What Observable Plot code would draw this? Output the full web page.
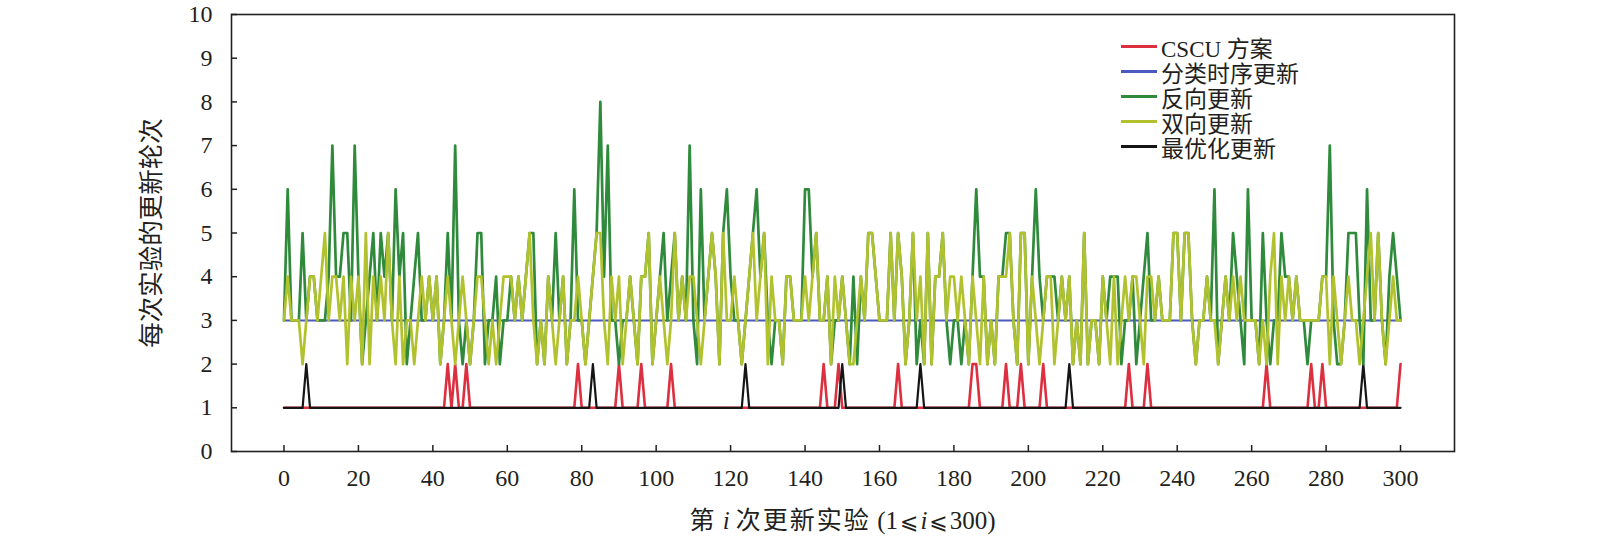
<!DOCTYPE html>
<html><head><meta charset="utf-8">
<script src="https://cdn.jsdelivr.net/npm/d3@7"></script>
<script src="https://cdn.jsdelivr.net/npm/@observablehq/plot@0.6"></script>
<style>
body{margin:0;background:#fff;}
#wrap{position:relative;width:1600px;height:539px;overflow:hidden;}
.leg{position:absolute;left:1121px;top:34px;font-family:"Liberation Serif","Noto Sans CJK SC",serif;font-size:23px;color:#231f20;}
.leg .row{display:flex;align-items:center;height:25.1px;white-space:nowrap;}
.leg .sw{display:inline-block;width:36px;height:3px;margin-right:4px;}
#xt{position:absolute;left:231px;width:1223px;top:500px;text-align:center;font-family:"Liberation Serif","Noto Sans CJK SC",serif;font-size:25px;color:#231f20;white-space:nowrap;}
#xt .cj{letter-spacing:2px;}
#xt .le{font-family:"DejaVu Sans","Noto Sans CJK SC",sans-serif;font-size:22px;padding:0 2px;}
</style></head>
<body>
<div id="wrap"></div>
<script>
// ---- data ----
const xTicks = [0,20,40,60,80,100,120,140,160,180,200,220,240,260,280,300];
const yTicks = [0,1,2,3,4,5,6,7,8,9,10];
const seriesNames = ["CSCU 方案","分类时序更新","反向更新","双向更新","最优化更新"];
const seriesColors = ["#dc2f3f","#4a5ac0","#2f8a3b","#b2c22e","#151515"];

// 反向更新 (green), trials 0..300
const reverseUpdate = [
3,6,3,3,3,5,3,4,4,3, 3,3,4,7,4,4,5,5,3,7, 4,2,3,4,5,3,5,4,5,3,
6,4,5,2,3,4,5,3,3,4, 3,4,2,3,5,3,7,3,2,3, 2,3,5,5,2,3,3,4,2,3,
3,4,3,4,3,4,5,5,2,3, 2,4,3,5,3,4,2,3,6,3, 3,2,3,4,5,8,4,7,3,3,
2,3,3,4,3,2,4,4,5,2, 3,4,5,3,4,5,3,4,3,7, 3,2,6,3,4,5,4,2,5,6,
4,3,3,2,3,4,5,6,4,5, 3,2,3,3,2,4,4,3,3,3, 6,6,4,5,3,3,4,2,3,3,
4,3,2,4,2,4,3,5,5,4, 3,3,3,5,3,5,4,2,3,5, 2,3,2,5,2,4,4,5,3,2,
3,3,2,3,2,4,6,4,4,2, 3,2,4,4,5,5,3,2,5,5, 2,4,6,4,3,4,4,4,3,4,
3,4,2,3,2,5,2,3,3,2, 4,3,4,4,4,2,3,3,4,2, 3,4,5,3,3,4,3,3,3,5,
5,3,5,5,3,2,3,3,4,3, 6,2,3,4,3,5,4,3,2,6, 3,3,2,5,3,2,3,3,5,4,
4,3,4,3,3,2,3,3,3,4, 4,7,3,2,2,3,5,5,5,3, 2,6,3,3,5,3,2,4,5,4, 3];

// 双向更新 (yellow-green), trials 0..300
const bidirUpdate = [
3,4,3,3,3,2,3,4,4,3, 4,5,3,4,4,3,4,2,4,3, 4,2,5,2,4,3,4,3,5,3,
2,4,2,3,3,2,3,4,3,4, 3,4,2,3,4,3,2,3,4,3, 2,3,4,4,3,2,3,2,3,4,
4,4,3,4,3,4,5,3,2,3, 2,4,3,2,3,4,2,3,3,4, 3,2,3,4,5,5,3,2,4,3,
4,2,3,4,3,2,4,4,5,2, 3,4,3,2,3,5,3,4,3,4, 4,3,2,3,4,5,4,2,5,3,
3,4,3,2,3,4,5,3,4,5, 2,4,3,3,2,4,4,3,3,3, 4,3,4,5,3,3,4,2,4,3,
4,3,2,2,3,4,3,5,5,4, 3,3,3,5,3,5,4,2,3,5, 3,4,2,5,2,4,4,5,3,4,
4,3,4,3,2,4,3,2,4,2, 3,2,4,4,4,5,3,2,5,5, 2,4,3,2,3,4,4,2,3,4,
3,4,2,3,2,5,2,3,3,2, 4,3,2,4,2,3,4,3,4,4, 3,2,4,4,3,4,3,3,3,5,
5,3,5,5,3,2,3,3,4,3, 3,2,3,4,3,4,3,4,3,3, 3,3,2,3,2,4,5,2,4,3,
4,3,4,3,3,3,3,3,3,4, 4,2,4,3,2,3,4,3,3,2, 3,4,5,3,5,3,2,3,4,3, 3];

// 分类时序更新 (blue): constant level
const sequentialLevel = 3;
// CSCU 方案 (red): base level 1, trials where it reaches 2
const cscuBase = 1;
const cscuPeaks = [44,46,49,79,90,96,104,145,149,165,185,186,194,198,204,227,232,264,276,279,300];
// 最优化更新 (black): base level 1, trials where it reaches 2
const optBase = 1;
const optPeaks = [6,83,124,150,171,211,290];

// ---- build tables ----
const trials = reverseUpdate.map((_, i) => i);
const rows = (name, vals) => trials.map((t, i) => ({t, v: vals[i], s: name}));
const cscu = rows(seriesNames[0], trials.map(t => cscuPeaks.includes(t) ? cscuBase + 1 : cscuBase));
const seq = rows(seriesNames[1], trials.map(() => sequentialLevel));
const rev = rows(seriesNames[2], reverseUpdate);
const bid = rows(seriesNames[3], bidirUpdate);
const opt = rows(seriesNames[4], trials.map(t => optPeaks.includes(t) ? optBase + 1 : optBase));

// ---- layout ----
const W = 1600, H = 539, mL = 231, mR = 146, mT = 14, mB = 88;
const xDomain = [-14.1, 314.5], yDomain = [0, 10];
const tickPx = 6;
const tx = tickPx * (xDomain[1] - xDomain[0]) / (W - mL - mR);
const ty = tickPx * (yDomain[1] - yDomain[0]) / (H - mT - mB);
const font = '"Liberation Serif","Noto Sans CJK SC",serif';
const lineOpts = (c, w) => ({x: "t", y: "v", stroke: c, strokeWidth: w});

const chart = Plot.plot({
  width: W, height: H,
  marginLeft: mL, marginRight: mR, marginTop: mT, marginBottom: mB,
  style: {fontFamily: font, fontSize: "24px", color: "#231f20", background: "#fff"},
  x: {domain: xDomain, label: null},
  y: {domain: yDomain, label: null},
  marks: [
    Plot.axisX({ticks: xTicks, tickSize: 0, tickPadding: 17, fontSize: 24, label: null}),
    Plot.axisY({ticks: yTicks, tickSize: 0, tickPadding: 19, fontSize: 24, label: null}),
    Plot.axisY({ticks: [], tickSize: 0, fontSize: 25.5,
      label: "每次实验的更新轮次", labelAnchor: "center", labelOffset: 90, labelArrow: "none"}),
    Plot.ruleY(yTicks, {y: d => d, x1: xDomain[0], x2: xDomain[0] + tx, stroke: "#231f20", strokeWidth: 1.5}),
    Plot.ruleX(xTicks, {x: d => d, y1: yDomain[0], y2: yDomain[0] + ty, stroke: "#231f20", strokeWidth: 1.5}),
    Plot.line(seq, lineOpts(seriesColors[1], 2)),
    Plot.line(cscu, lineOpts(seriesColors[0], 2.6)),
    Plot.line(opt, lineOpts(seriesColors[4], 2.2)),
    Plot.line(rev, lineOpts(seriesColors[2], 2.7)),
    Plot.line(bid, lineOpts(seriesColors[3], 2.7)),
    Plot.frame({stroke: "#231f20", strokeWidth: 1.6})
  ]
});

const wrap = document.getElementById("wrap");
wrap.appendChild(chart);

// legend inside the frame
const leg = document.createElement("div");
leg.className = "leg";
seriesNames.forEach((n, i) => {
  const r = document.createElement("div");
  r.className = "row";
  r.innerHTML = `<span class="sw" style="background:${seriesColors[i]}"></span><span>${n}</span>`;
  leg.appendChild(r);
});
wrap.appendChild(leg);

// x-axis title with italic i
const xt = document.createElement("div");
xt.id = "xt";
xt.innerHTML = '<span class="cj">第</span> <i>i</i> <span class="cj">次更新实验</span> (1<span class="le">⩽</span><i>i</i><span class="le">⩽</span>300)';
wrap.appendChild(xt);
</script>
</body></html>
